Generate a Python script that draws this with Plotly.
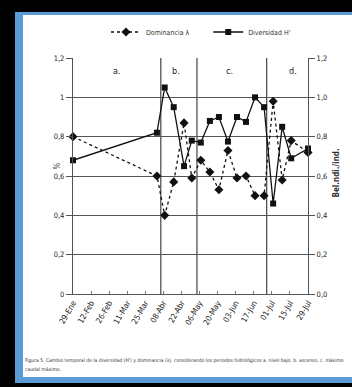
import plotly.graph_objects as go

# Sampling dates (2008) and index values
fechas = ["2008-01-29", "2008-04-03", "2008-04-09", "2008-04-16", "2008-04-24",
          "2008-04-30", "2008-05-07", "2008-05-14", "2008-05-21", "2008-05-28",
          "2008-06-04", "2008-06-11", "2008-06-18", "2008-06-25", "2008-07-02",
          "2008-07-09", "2008-07-16", "2008-07-29"]
dominancia = [0.80, 0.60, 0.40, 0.57, 0.87, 0.59, 0.68, 0.62, 0.53, 0.73,
              0.59, 0.60, 0.50, 0.50, 0.98, 0.58, 0.78, 0.72]
diversidad = [0.68, 0.82, 1.05, 0.95, 0.65, 0.78, 0.77, 0.88, 0.90, 0.775,
              0.90, 0.875, 1.00, 0.95, 0.46, 0.85, 0.69, 0.74]

# Axis ticks
tick_fechas = ["2008-01-29", "2008-02-12", "2008-02-26", "2008-03-11", "2008-03-25",
               "2008-04-08", "2008-04-22", "2008-05-06", "2008-05-20", "2008-06-03",
               "2008-06-17", "2008-07-01", "2008-07-15", "2008-07-29"]
tick_textos = ["29-Ene", "12-Feb", "26-Feb", "11-Mar", "25-Mar", "08-Abr", "22-Abr",
               "06-May", "20-May", "03-Jun", "17-Jun", "01-Jul", "15-Jul", "29-Jul"]
y_ticks = [0, 0.2, 0.4, 0.6, 0.8, 1.0, 1.2]

# Hydrological periods: dividers and labels
divisiones = ["2008-04-06", "2008-05-04", "2008-06-27"]
periodos = ["a.", "b.", "c.", "d."]
periodo_x = ["2008-03-03", "2008-04-18", "2008-05-29", "2008-07-17"]

FONT = "Liberation Sans Narrow, DejaVu Sans Condensed, Arial Narrow, sans-serif"
NBSP = "\u00a0"

# plot area in pixels
W, H = 352, 387
L, R, T, B = 73, 308, 58, 294


def px(x):
    return (x - L) / (R - L)


def py(y):
    return (B - y) / (B - T)


fig = go.Figure()
fig.add_trace(go.Scatter(
    x=fechas, y=dominancia, name="Dominancia λ" + NBSP * 7, mode="lines+markers",
    line=dict(color="#111", width=1.3, dash="dot"),
    marker=dict(symbol="diamond", size=7, color="#111"), cliponaxis=False))
fig.add_trace(go.Scatter(
    x=fechas, y=diversidad, name="Diversidad H'", mode="lines+markers", yaxis="y2",
    line=dict(color="#111", width=1.3),
    marker=dict(symbol="square", size=6, color="#111"), cliponaxis=False))

shapes = [
    # frame: black border, blue band, white page
    dict(type="rect", xref="paper", yref="paper", x0=px(-5), x1=px(W + 5),
         y0=py(H + 5), y1=py(-5), fillcolor="black", line_width=0, layer="below"),
    dict(type="rect", xref="paper", yref="paper", x0=px(15), x1=px(W + 5),
         y0=py(383), y1=py(12), fillcolor="#5b9bd5", line_width=0, layer="below"),
    dict(type="rect", xref="paper", yref="paper", x0=px(23), x1=px(W + 5),
         y0=py(377), y1=py(15), fillcolor="white", line_width=0, layer="below"),
]
for d in divisiones:
    shapes.append(dict(type="line", xref="x", yref="y", x0=d, x1=d, y0=0, y1=1.2,
                       line=dict(color="#444", width=1.2), layer="below"))

annotations = []
for lab, xv in zip(periodos, periodo_x):
    annotations.append(dict(x=xv, y=1.134, xref="x", yref="y", text=lab, showarrow=False,
                            font=dict(family=FONT, size=9, color="#222")))
annotations.append(dict(x=px(50), y=py(166), xref="paper", yref="paper", text="%",
                        textangle=-90, showarrow=False,
                        font=dict(family=FONT, size=8, color="#333")))
annotations.append(dict(x=px(342), y=py(173), xref="paper", yref="paper",
                        text="<b>Bel.ndi./ind.</b>", textangle=-90, showarrow=False,
                        font=dict(family=FONT, size=8, color="#333")))
annotations.append(dict(x=px(23), y=py(360), xref="paper", yref="paper", xanchor="left",
                        yanchor="middle", showarrow=False, align="left",
                        text="Figura 5. Cambio temporal de la diversidad (H') y dominancia (λ), "
                             "considerando los periodos hidrológicos a. nivel bajo, b. ascenso, c. máximo",
                        font=dict(family=FONT, size=5, color="#333")))
annotations.append(dict(x=px(23), y=py(369), xref="paper", yref="paper", xanchor="left",
                        yanchor="middle", showarrow=False, align="left",
                        text="caudal máximo.",
                        font=dict(family=FONT, size=5, color="#333")))

yax = dict(range=[0, 1.2], tickvals=y_ticks, showgrid=True, gridcolor="#555", gridwidth=1.2,
           zeroline=False, showline=True, linecolor="#555", linewidth=1.2,
           ticks="outside", ticklen=6, tickcolor="#555",
           tickfont=dict(family=FONT, size=7.5, color="#222"))

fig.update_layout(
    width=W, height=H, margin=dict(l=L, r=W - R, t=T, b=H - B),
    paper_bgcolor="white", plot_bgcolor="white", separators=",.",
    showlegend=True,
    legend=dict(orientation="h", x=px(106), y=py(32), xanchor="left", yanchor="middle",
                font=dict(family=FONT, size=7, color="#333"), bgcolor="rgba(0,0,0,0)",
                itemwidth=30, traceorder="normal", tracegroupgap=0),
    xaxis=dict(type="date", range=["2008-01-29", "2008-07-29"], tickvals=tick_fechas,
               ticktext=tick_textos, tickangle=-60, showgrid=False, zeroline=False,
               showline=True, linecolor="#555", linewidth=1.2, mirror=False,
               ticks="inside", ticklen=3, tickcolor="#777",
               tickfont=dict(family=FONT, size=8, color="#222")),
    yaxis=yax,
    yaxis2=dict(yax, overlaying="y", side="right", tickformat=".1f", showgrid=False),
    shapes=shapes, annotations=annotations,
)

fig.write_html("out.html")
